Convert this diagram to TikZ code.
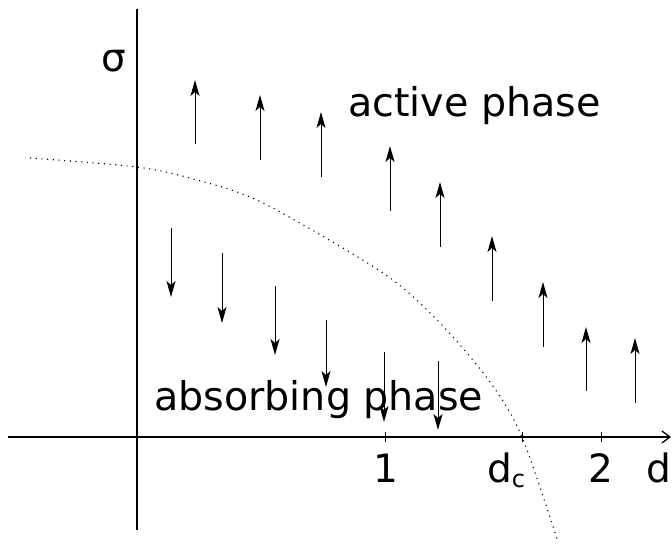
\documentclass[tikz,border=0pt]{standalone}
\usepackage{fontspec}
\setmainfont{DejaVu Sans}
\usepackage{tikz}
\usetikzlibrary{arrows.meta}

\tikzset{
  flow/.style={line width=1pt,-{Stealth[length=16pt,width=9pt,inset=4pt]}},
  phaselabel/.style={anchor=base west,inner sep=0pt,font=\fontsize{39.6}{47}\selectfont},
  axislabel/.style={anchor=base,font=\fontsize{39}{47}\selectfont}
}

\begin{document}
\begin{tikzpicture}[x=1pt,y=-1pt]
        \useasboundingbox (0,0) rectangle (672,545);
        \draw[line width=1.3pt,-{Straight Barb[length=8pt,width=12pt]}] (8,437) -- (671,437);
        \draw[line width=1.3pt] (137,9) -- (137,530);
        \draw[line width=1pt] (385,432) -- (385,442);
        \draw[line width=1pt] (522,432) -- (522,442);
        \draw[line width=1pt] (601,432) -- (601,442);
        \node[axislabel] (sigma) at (114,72) {σ};
        \node[axislabel] (one) at (386,482) {1};
        \node[axislabel] (two) at (601,482) {2};
        \node[axislabel] (dlab) at (659,482) {d};
        \node[anchor=base west,inner sep=0pt,font=\fontsize{39}{47}\selectfont] (dc) at (487,482) {d\raisebox{-5pt}{\fontsize{24}{24}\selectfont c}};
        \draw[line width=1.1pt,dash pattern=on 1.1pt off 4.6pt] plot[smooth] coordinates {(30,158) (137,167) (197,180) (263,203) (383,273) (440,323) (490,382) (522,437) (558,542)};
        \draw[flow] (195,144) -- (195,80);
        \draw[flow] (260,160) -- (260,95);
        \draw[flow] (321,177) -- (321,112);
        \draw[flow] (390,211) -- (390,146);
        \draw[flow] (440,247) -- (440,182);
        \draw[flow] (492,301) -- (492,236);
        \draw[flow] (543,347) -- (543,282);
        \draw[flow] (586,391) -- (586,327);
        \draw[flow] (635,403) -- (635,338);
        \draw[flow] (171,228) -- (171,297);
        \draw[flow] (222,253) -- (222,323);
        \draw[flow] (275,286) -- (275,355);
        \draw[flow] (326,320) -- (326,387);
        \draw[flow] (384,352) -- (384,422);
        \draw[flow] (438,361) -- (438,430);
        \node[phaselabel] (active) at (348,117) {active phase};
        \node[phaselabel] (absorbing) at (154,410) {absorbing phase};
    \end{tikzpicture}
\end{document}
